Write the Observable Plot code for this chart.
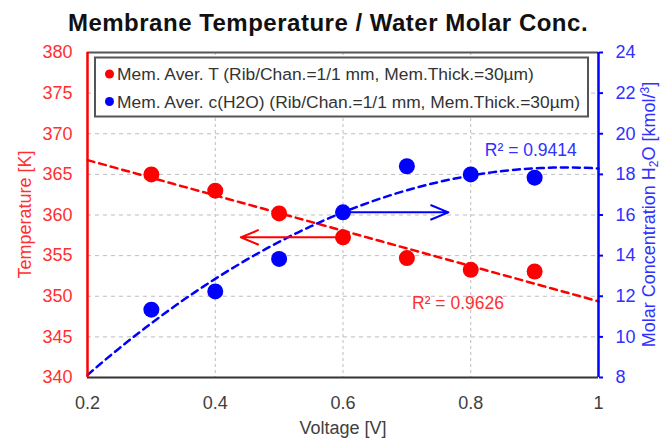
<!DOCTYPE html>
<html>
<head>
<meta charset="utf-8">
<script src="https://cdn.jsdelivr.net/npm/d3@7"></script>
<script src="https://cdn.jsdelivr.net/npm/@observablehq/plot@0.6"></script>
<style>
  body { margin: 0; background: #fff; font-family: "Liberation Sans", Arial, sans-serif; }
  #title {
    width: 656px; height: 40px; box-sizing: border-box; padding-top: 11px;
    text-align: center; font-weight: bold; font-size: 24px; line-height: 24px;
    color: #111; letter-spacing: 0.5px; white-space: nowrap;
  }
</style>
</head>
<body>
<div id="title">Membrane Temperature / Water Molar Conc.</div>
<div id="chart"></div>
<script>
// Measured membrane averages vs. cell voltage
const voltage = [0.3, 0.4, 0.5, 0.6, 0.7, 0.8, 0.9];
const memTemp = [365.0, 363.0, 360.2, 357.25, 354.7, 353.25, 353.05];   // K
const memConc = [11.34, 12.24, 13.84, 16.13, 18.4, 18.0, 17.84];        // kmol/m³

const xTicks = [0.2, 0.4, 0.6, 0.8, 1];
const tempTicks = [340, 345, 350, 355, 360, 365, 370, 375, 380];
const concTicks = [8, 10, 12, 14, 16, 18, 20, 22, 24];

const legendLabels = [
  "Mem. Aver. T (Rib/Chan.=1/1 mm, Mem.Thick.=30µm)",
  "Mem. Aver. c(H2O) (Rib/Chan.=1/1 mm, Mem.Thick.=30µm)"
];
const r2Labels = ["R² = 0.9626", "R² = 0.9414"];

// Arrows from the 0.6 V points toward their axes (tip voltages)
const arrowTips = [0.44, 0.765];

const RED = "#ff0000", BLUE = "#0000ff";

// Concentration shares the temperature scale: 8..24 maps onto 340..380
const concToTemp = c => 340 + (c - 8) * 2.5;
const tempToConc = t => (t - 340) / 2.5 + 8;

// Least-squares polynomial fit (normal equations, Gauss-Jordan)
function polyFit(xs, ys, deg) {
  const n = deg + 1;
  const A = Array.from({length: n}, () => Array(n + 1).fill(0));
  xs.forEach((x, i) => {
    for (let r = 0; r < n; r++) {
      for (let c = 0; c < n; c++) A[r][c] += x ** (r + c);
      A[r][n] += ys[i] * x ** r;
    }
  });
  for (let p = 0; p < n; p++) {
    let m = p;
    for (let r = p + 1; r < n; r++) if (Math.abs(A[r][p]) > Math.abs(A[m][p])) m = r;
    [A[p], A[m]] = [A[m], A[p]];
    for (let r = 0; r < n; r++) {
      if (r === p) continue;
      const f = A[r][p] / A[p][p];
      for (let c = p; c <= n; c++) A[r][c] -= f * A[p][c];
    }
  }
  return A.map((row, i) => row[n] / row[i]);
}
const evalPoly = (coef, x) => coef.reduce((s, a, i) => s + a * x ** i, 0);

const tempFit = polyFit(voltage, memTemp, 1);
const concFit = polyFit(voltage, memConc, 2);
const fitX = d3.range(0, 81).map(i => 0.2 + i * 0.01);

const tempRows = voltage.map((v, i) => ({v, t: memTemp[i]}));
const concRows = voltage.map((v, i) => ({v, t: concToTemp(memConc[i])}));
const i06 = voltage.indexOf(0.6);

const W = 660, H = 399, M = {top: 12, right: 62, bottom: 62, left: 87};

const plot = Plot.plot({
  width: W,
  height: H,
  marginTop: M.top,
  marginBottom: M.bottom,
  marginLeft: M.left,
  marginRight: M.right,
  style: {fontFamily: "'Liberation Sans', Arial, sans-serif", fontSize: "18px", background: "#fff"},
  x: {domain: [0.2, 1], axis: null},
  y: {domain: [340, 380], axis: null},
  marks: [
    Plot.gridY(tempTicks.slice(1, -1), {stroke: "#bdbdbd", strokeOpacity: 1, strokeDasharray: "4,4"}),
    Plot.gridX(xTicks.slice(1, -1), {stroke: "#bdbdbd", strokeOpacity: 1, strokeDasharray: "3,3"}),

    // trend lines
    Plot.line(fitX, {x: d => d, y: d => evalPoly(tempFit, d), stroke: RED, strokeWidth: 2.5, strokeDasharray: "7,5"}),
    Plot.line(fitX, {x: d => d, y: d => concToTemp(evalPoly(concFit, d)), stroke: BLUE, strokeWidth: 2.5, strokeDasharray: "7,5"}),

    // frame
    Plot.ruleY([380], {stroke: "#555", strokeWidth: 2}),
    Plot.ruleY([340], {stroke: "#333", strokeWidth: 2}),
    Plot.ruleX([0.2], {stroke: RED, strokeWidth: 2.5}),
    Plot.ruleX([1], {stroke: BLUE, strokeWidth: 2.5}),

    // measured points
    Plot.dot(tempRows, {x: "v", y: "t", r: 8, fill: RED}),
    Plot.dot(concRows, {x: "v", y: "t", r: 8, fill: BLUE}),

    // arrows pointing to the relevant axis
    Plot.arrow([0], {x1: 0.6, y1: memTemp[i06], x2: arrowTips[0], y2: memTemp[i06],
      stroke: RED, strokeWidth: 2, headLength: 14, headAngle: 45}),
    Plot.arrow([0], {x1: 0.6, y1: concToTemp(memConc[i06]), x2: arrowTips[1], y2: concToTemp(memConc[i06]),
      stroke: BLUE, strokeWidth: 2, headLength: 14, headAngle: 45}),

    // R² annotations
    Plot.text([r2Labels[0]], {x: 0.78, y: 348.45, text: d => d, fill: "#ff3030", fontSize: 17.5, lineAnchor: "bottom"}),
    Plot.text([r2Labels[1]], {x: 0.894, y: 367.3, text: d => d, fill: "#3030ff", fontSize: 17.5, lineAnchor: "bottom"}),

    // axes
    Plot.axisY(tempTicks, {anchor: "left", label: null, tickSize: 0, tickPadding: 15, fill: "#ff3030", tickFormat: d => String(d)}),
    Plot.axisY(concTicks.map(concToTemp), {anchor: "right", label: null, tickSize: 4, tickPadding: 13, stroke: BLUE, strokeWidth: 2,
      fill: "#3030ff", tickFormat: t => String(Math.round(tempToConc(t)))}),
    Plot.axisX(xTicks, {anchor: "bottom", label: null, tickSize: 0, tickPadding: 19, fill: "#404040", tickFormat: d => String(d)}),

    Plot.text(["Voltage [V]"], {frameAnchor: "bottom", dy: 51, lineAnchor: "middle", fill: "#404040", fontSize: 18})
  ]
});

const svg = d3.select(plot);
const midY = (M.top + H - M.bottom) / 2;

// rotated axis titles
svg.append("text")
  .attr("transform", `translate(${M.left - 62},${midY}) rotate(-90)`)
  .attr("text-anchor", "middle").attr("dy", "0.32em")
  .attr("font-size", 18).attr("fill", "#ff3030")
  .text("Temperature [K]");

const rightTitle = svg.append("text")
  .attr("transform", `translate(${W - M.right + 51},${midY}) rotate(-90)`)
  .attr("text-anchor", "middle").attr("dy", "0.32em")
  .attr("font-size", 18).attr("fill", "#3030ff");
rightTitle.append("tspan").text("Molar Concentration H");
rightTitle.append("tspan").attr("font-size", 12).attr("dy", 3).text("2");
rightTitle.append("tspan").attr("dy", -3).text("O [kmol/");
rightTitle.append("tspan").attr("font-size", 12).attr("dy", -6).text("3");
rightTitle.append("tspan").attr("dy", 6).text("]");

// legend box
const lg = svg.append("g").attr("font-size", 17.4).attr("fill", "#333").attr("text-anchor", "start");
lg.append("rect").attr("x", 95).attr("y", 17.5).attr("width", 493).attr("height", 59)
  .attr("fill", "#fff").attr("stroke", "#555").attr("stroke-width", 2);
[RED, BLUE].forEach((color, i) => {
  const y = 34 + i * 27.5;
  lg.append("circle").attr("cx", 109.5).attr("cy", y).attr("r", 4.5).attr("fill", color);
  lg.append("text").attr("x", 117).attr("y", y + 6).text(legendLabels[i]);
});

document.getElementById("chart").append(plot);
</script>
</body>
</html>
